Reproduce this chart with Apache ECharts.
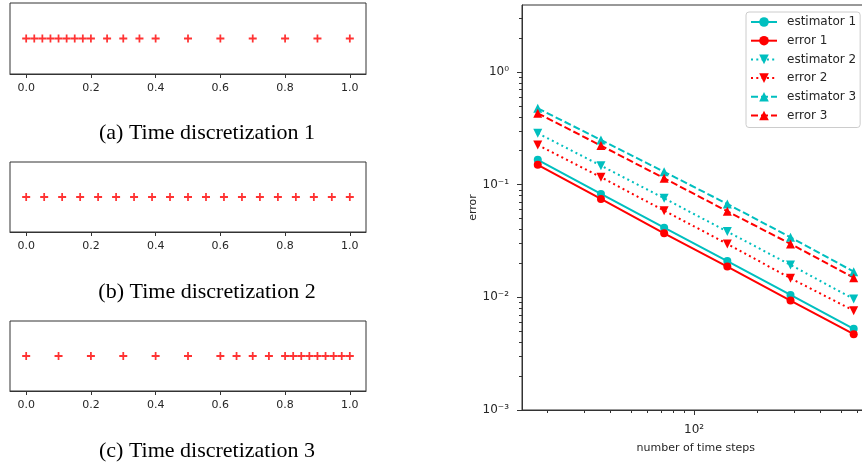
<!DOCTYPE html>
<html><head><meta charset="utf-8">
<script src="https://cdn.jsdelivr.net/npm/echarts@6/dist/echarts.min.js"></script>
<style>html,body{margin:0;padding:0;background:#fff}#c{width:862px;height:464px}</style>
</head><body><div id="c"></div>
<script>
// Time discretizations (strip plots)
const disc1 = [0, 0.025, 0.05, 0.075, 0.1, 0.125, 0.15, 0.175, 0.2, 0.25, 0.3, 0.35, 0.4, 0.5, 0.6, 0.7, 0.8, 0.9, 1.0];
const disc2 = [0, 0.0556, 0.1111, 0.1667, 0.2222, 0.2778, 0.3333, 0.3889, 0.4444, 0.5, 0.5556, 0.6111, 0.6667, 0.7222, 0.7778, 0.8333, 0.8889, 0.9444, 1.0];
const disc3 = [0, 0.1, 0.2, 0.3, 0.4, 0.5, 0.6, 0.65, 0.7, 0.75, 0.8, 0.825, 0.85, 0.875, 0.9, 0.925, 0.95, 0.975, 1.0];
const stripTicks = [0, 0.2, 0.4, 0.6, 0.8, 1.0];
const captions = ['(a) Time discretization 1', '(b) Time discretization 2', '(c) Time discretization 3'];

// Convergence plot
const timeSteps = [18, 36, 72, 144, 288, 576];
const estimator1 = [0.166, 0.0827, 0.0415, 0.0210, 0.0105, 0.00525];
const error1     = [0.150, 0.0747, 0.0370, 0.01874, 0.00935, 0.00471];
const estimator2 = [0.286, 0.1475, 0.0757, 0.0383, 0.0194, 0.00968];
const error2     = [0.225, 0.1164, 0.0588, 0.0298, 0.01477, 0.00762];
const estimator3 = [0.476, 0.249, 0.130, 0.0674, 0.0341, 0.0169];
const error3     = [0.430, 0.222, 0.114, 0.0580, 0.0298, 0.01495];
const xMajor = [100];
const xMinor = [20, 30, 40, 50, 60, 70, 80, 90, 200, 300, 400, 500, 600];
const yMajor = [0.001, 0.01, 0.1, 1];
const yMinor = [0.002,0.003,0.004,0.005,0.006,0.007,0.008,0.009,0.02,0.03,0.04,0.05,0.06,0.07,0.08,0.09,0.2,0.3,0.4,0.5,0.6,0.7,0.8,0.9,2,3];
const xRange = [15.14, 685];
const yRange = [0.001, 3.93];

const L = Math.log10;
const sup = {'-':'⁻','0':'⁰','1':'¹','2':'²','3':'³','4':'⁴','5':'⁵','6':'⁶','7':'⁷','8':'⁸','9':'⁹'};
const powLabel = v => '10' + String(Math.round(v)).split('').map(c => sup[c]).join('');

const CYAN = '#00BFBF', RED = '#FF0000', AX = '#333';
const plus = 'path://M0,3.9H10V6.1H0ZM3.9,0H6.1V10H3.9Z';
const downTri = 'path://M0,0L10,0L5,9Z';

const stripTops = [3, 162, 321];
const stripHeights = [71, 70, 70];
const stripData = [disc1, disc2, disc3];

const grids = [], xAxes = [], yAxes = [], series = [], graphics = [];
stripData.forEach((d, i) => {
  grids.push({left: 10, width: 356, top: stripTops[i], height: stripHeights[i], show: true, borderColor: AX, borderWidth: 1, outerBoundsMode: 'none'});
  xAxes.push({type: 'value', gridIndex: i, min: -0.05, max: 1.05,
    axisLine: {show: true, onZero: false, lineStyle: {color: AX}}, splitLine: {show: false},
    axisTick: {show: true, length: 4, customValues: stripTicks, lineStyle: {color: AX}},
    axisLabel: {customValues: stripTicks, formatter: v => v.toFixed(1), margin: 9, fontSize: 11, color: '#262626', fontFamily: 'DejaVu Sans'}});
  yAxes.push({type: 'value', gridIndex: i, min: -1, max: 1, show: false, axisLine: {onZero: false}});
  series.push({type: 'scatter', xAxisIndex: i, yAxisIndex: i, symbol: plus, symbolSize: 8,
    itemStyle: {color: RED}, data: d.map(v => [v, 0])});
  graphics.push({type: 'text', x: 207, y: stripTops[i] + 130.5, style: {text: captions[i], font: '22px "Liberation Serif"', fill: '#000', textAlign: 'center', textVerticalAlign: 'middle'}});
});

grids.push({left: 522, width: 347.5, top: 5, height: 405, show: true, borderColor: AX, borderWidth: 1, outerBoundsMode: 'none'});
const mainX = {type: 'value', gridIndex: 3, min: L(xRange[0]), max: L(xRange[1]), position: 'bottom', splitLine: {show: false}};
xAxes.push(Object.assign({}, mainX, {
  name: 'number of time steps', nameLocation: 'middle', nameGap: 33,
  nameTextStyle: {fontSize: 11, color: '#262626', fontFamily: 'DejaVu Sans'},
  axisLine: {show: true, onZero: false, lineStyle: {color: AX}},
  axisTick: {show: true, length: 5, customValues: xMajor.map(L), lineStyle: {color: AX}},
  axisLabel: {customValues: xMajor.map(L), formatter: powLabel, margin: 14, fontSize: 12, color: '#262626', fontFamily: 'DejaVu Sans'}}));
xAxes.push(Object.assign({}, mainX, {
  axisLine: {show: false, onZero: false}, axisLabel: {show: false},
  axisTick: {show: true, length: 3, customValues: xMinor.map(L), lineStyle: {color: AX}}}));
const mainY = {type: 'value', gridIndex: 3, min: L(yRange[0]), max: L(yRange[1]), position: 'left', splitLine: {show: false}};
yAxes.push(Object.assign({}, mainY, {
  name: 'error', nameLocation: 'middle', nameGap: 43, nameRotate: 90,
  nameTextStyle: {fontSize: 11, color: '#262626', fontFamily: 'DejaVu Sans'},
  axisLine: {show: true, onZero: false, lineStyle: {color: AX}},
  axisTick: {show: true, length: 5, customValues: yMajor.map(L), lineStyle: {color: AX}},
  axisLabel: {customValues: yMajor.map(L), formatter: powLabel, margin: 13, fontSize: 12, color: '#262626', fontFamily: 'DejaVu Sans'}}));
yAxes.push(Object.assign({}, mainY, {
  axisLine: {show: false, onZero: false}, axisLabel: {show: false},
  axisTick: {show: true, length: 3, customValues: yMinor.map(L), lineStyle: {color: AX}}}));

const lines = [
  ['estimator 1', estimator1, CYAN, 'solid', 'circle', 8],
  ['error 1', error1, RED, 'solid', 'circle', 8],
  ['estimator 2', estimator2, CYAN, [2, 3.3], downTri, 9],
  ['error 2', error2, RED, [2, 3.3], downTri, 9],
  ['estimator 3', estimator3, CYAN, [7, 3], 'triangle', 9],
  ['error 3', error3, RED, [7, 3], 'triangle', 9]
];
lines.forEach(([name, vals, col, type, sym, size]) => {
  series.push({type: 'line', name, xAxisIndex: 3, yAxisIndex: 3, symbol: sym, symbolSize: size, showSymbol: true,
    lineStyle: {color: col, width: 2, type}, itemStyle: {color: col},
    data: timeSteps.map((n, i) => [L(n), L(vals[i])])});
});

const chart = echarts.init(document.getElementById('c'), null, {renderer: 'canvas'});
chart.setOption({
  animation: false,
  grid: grids, xAxis: xAxes, yAxis: yAxes, series,
  graphic: graphics,
  legend: {left: 746, top: 12, orient: 'vertical', itemWidth: 26, itemHeight: 12, itemGap: 6.7,
    padding: [4, 4, 6, 4], borderColor: '#ccc', borderWidth: 1, borderRadius: 3, backgroundColor: 'rgba(255,255,255,0.8)',
    textStyle: {fontSize: 12, color: '#262626', fontFamily: 'DejaVu Sans', lineHeight: 12, padding: [0, 0, 0, 5]},
    data: lines.map(l => l[0])}
});
</script></body></html>
